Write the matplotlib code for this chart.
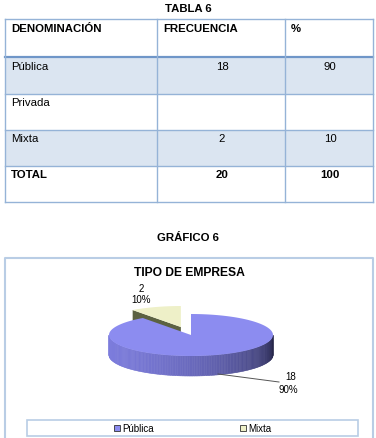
import numpy as np
import matplotlib
matplotlib.use("Agg")
import matplotlib.pyplot as plt
from matplotlib.patches import Rectangle, Polygon
from matplotlib.colors import to_rgb

plt.rcParams['font.family'] = ['Liberation Sans', 'DejaVu Sans']

# datos de la tabla
encabezados = ["DENOMINACIÓN", "FRECUENCIA", "%"]
categorias = ["Pública", "Privada", "Mixta"]
frecuencias = ["18", "", "2"]
porcentajes = ["90", "", "10"]
total = ["TOTAL", "20", "100"]

# datos del grafico
sectores = ["Pública", "Mixta"]
valores = [18, 2]
colores_sup = ["#8c8cf0", "#eef0c8"]
colores_lado = ["#7676d6", "#5c6242"]

fig = plt.figure(figsize=(3.76, 4.38), dpi=100)
ax = fig.add_axes([0, 0, 1, 1])
ax.set_xlim(0, 376)
ax.set_ylim(438, 0)
ax.axis('off')

# ---------- tabla ----------
ax.text(188, 9, "TABLA 6", ha='center', va='center', fontsize=8.2, fontweight='bold')
cols = [5, 157, 285, 373]
filas = [19, 57, 94, 130, 166, 202]
borde = "#95b3d7"
contenido = [encabezados] + [[c, f, p] for c, f, p in zip(categorias, frecuencias, porcentajes)] + [total]
for i, fila in enumerate(contenido):
    y0, y1 = filas[i], filas[i + 1]
    if i in (1, 3):
        ax.add_patch(Rectangle((cols[0], y0), cols[-1] - cols[0], y1 - y0, facecolor="#dbe5f1", edgecolor='none'))
    negrita = 'bold' if i in (0, len(contenido) - 1) else 'normal'
    for j, txt in enumerate(fila):
        if i == 0 or j == 0:
            ax.text(cols[j] + 6, y0 + 9.5, txt, ha='left', va='center', fontsize=8.2, fontweight=negrita)
        else:
            ax.text((cols[j] + cols[j + 1]) / 2 + 1, y0 + 9.5, txt, ha='center', va='center', fontsize=8.2, fontweight=negrita)
for k, y in enumerate(filas):
    lw = 1.6 if k == 1 else 1.0
    c = "#6f96c8" if k == 1 else borde
    ax.plot([cols[0], cols[-1]], [y, y], color=c, lw=lw)
for x in cols:
    ax.plot([x, x], [filas[0], filas[-1]], color=borde, lw=1.0)

# ---------- grafico ----------
ax.text(188, 238, "GRÁFICO 6", ha='center', va='center', fontsize=8.2, fontweight='bold')
ax.plot([5, 5, 373, 373], [440, 258, 258, 440], color="#b9cde5", lw=1.5)
ax.text(189, 273, "TIPO DE EMPRESA", ha='center', va='center', fontsize=8.7, fontweight='bold')

cx, cy, rx, ry, prof = 191, 335, 82, 21, 20
tot = sum(valores)
angulos = []
a = 90.0
for v in valores:
    a1 = a - 360.0 * v / tot
    angulos.append((a1, a))
    a = a1
ex = 0.4

def pto(t, dx=0, dy=0):
    r = np.radians(t)
    return cx + dx + rx * np.cos(r), cy + dy - ry * np.sin(r)

# sector Mixta (explotado)
lo, hi = angulos[1]
lo, hi = lo + 360, hi + 360
mid = np.radians((lo + hi) / 2)
dx, dy = ex * rx * np.cos(mid), -ex * ry * np.sin(mid)
ts = np.linspace(lo, hi, 40)
p_hi = pto(hi, dx, dy)
cara = [(cx + dx, cy + dy), p_hi, (p_hi[0], p_hi[1] + prof), (cx + dx, cy + dy + prof)]
ax.add_patch(Polygon(cara, closed=True, facecolor=colores_lado[1], edgecolor='none'))
sup = [(cx + dx, cy + dy)] + [pto(t, dx, dy) for t in ts]
ax.add_patch(Polygon(sup, closed=True, facecolor=colores_sup[1], edgecolor='none'))

# sector Publica: lado frontal con degradado
c1 = np.array(to_rgb("#7c7cdc"))
c2 = np.array(to_rgb("#262648"))
n = 150
ts = np.linspace(180, 360, n + 1)
for k in range(n):
    t0, t1 = ts[k], ts[k + 1]
    f = ((t0 - 180) / 180) ** 2.2
    col = c1 * (1 - f) + c2 * f
    a0, a1 = pto(t0), pto(t1)
    quad = [a0, a1, (a1[0], a1[1] + prof), (a0[0], a0[1] + prof)]
    ax.add_patch(Polygon(quad, closed=True, facecolor=col, edgecolor=col, lw=0.4))
lo, hi = angulos[0]
ts = np.linspace(lo, hi, 200)
sup = [(cx, cy)] + [pto(t) for t in ts]
ax.add_patch(Polygon(sup, closed=True, facecolor=colores_sup[0], edgecolor='none'))

# etiquetas
ax.plot([218, 279], [374, 382], color="#555555", lw=0.7)
ax.text(296, 377, f"{valores[0]}", ha='right', va='center', fontsize=7)
ax.text(298, 390, f"{round(100 * valores[0] / tot)}%", ha='right', va='center', fontsize=7)
ax.text(141, 289, f"{valores[1]}", ha='center', va='center', fontsize=7)
ax.text(141, 300, f"{round(100 * valores[1] / tot)}%", ha='center', va='center', fontsize=7)

# leyenda
ax.add_patch(Rectangle((27, 420), 331, 16, facecolor='white', edgecolor="#b9cde5", lw=1.2))
pos_ley = [117, 243]
for x, nom, c in zip(pos_ley, sectores, colores_sup):
    ax.add_patch(Rectangle((x - 3, 425), 6, 6, facecolor=c, edgecolor='#333333', lw=0.6))
    ax.text(x + 5, 428.5, nom, ha='left', va='center', fontsize=7)

fig.savefig("out.png", dpi=100)
